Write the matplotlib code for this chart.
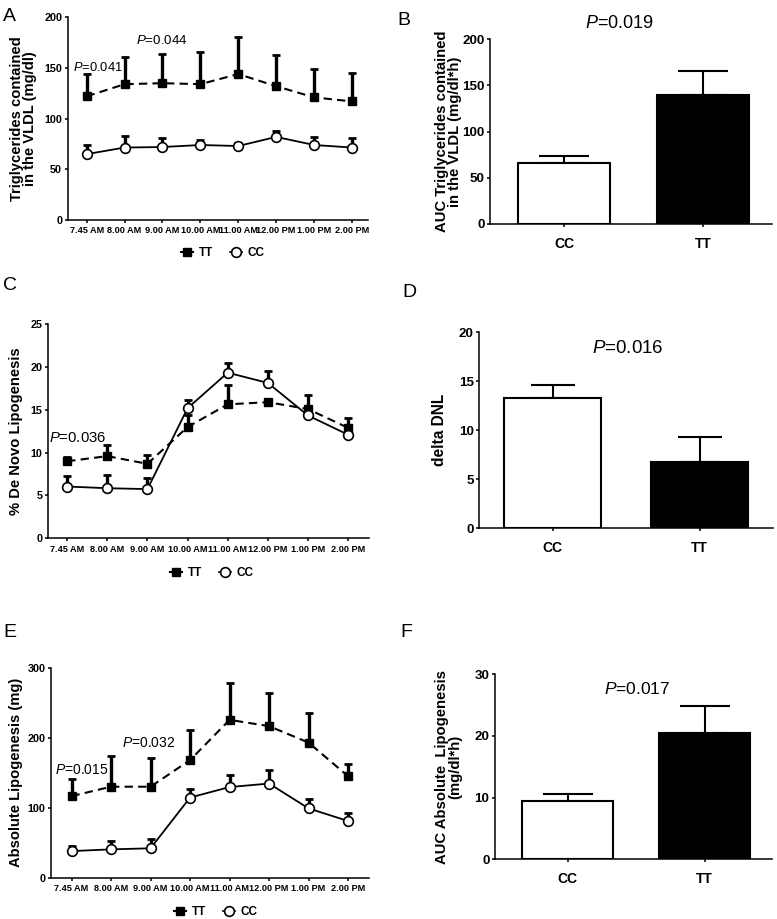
import matplotlib
matplotlib.use('Agg')
import matplotlib.pyplot as plt
from matplotlib.lines import Line2D
import numpy as np

plt.rcParams['font.family'] = ['Liberation Sans', 'DejaVu Sans']
plt.rcParams['mathtext.fontset'] = 'custom'
plt.rcParams['mathtext.it'] = 'Liberation Sans:italic'
plt.rcParams['mathtext.rm'] = 'Liberation Sans'

# ---- data ----
times = ['7.45 AM', '8.00 AM', '9.00 AM', '10.00 AM', '11.00 AM', '12.00 PM', '1.00 PM', '2.00 PM']
groups = ['CC', 'TT']

# A: triglycerides in VLDL (mg/dl), mean and upper error
tg_tt = [122, 134, 135, 134, 144, 132, 121, 117]
tg_tt_err = [22, 27, 29, 32, 37, 31, 28, 28]
tg_cc = [65, 71.5, 72, 74, 73, 82, 74, 71.5]
tg_cc_err = [9, 11.5, 9, 4.5, 3, 6, 8, 9]

# B: AUC triglycerides
auc_tg = [65.7, 140]
auc_tg_err = [8.3, 25.3]

# C: % de novo lipogenesis
dnl_tt = [9.0, 9.6, 8.7, 13.0, 15.65, 15.9, 15.1, 12.9]
dnl_tt_err = [0.5, 1.3, 1.0, 1.4, 2.25, 0.3, 1.6, 1.1]
dnl_cc = [6.05, 5.85, 5.75, 15.2, 19.35, 18.15, 14.35, 12.1]
dnl_cc_err = [1.25, 1.6, 1.35, 0.95, 1.15, 1.4, 0.3, 0.3]

# D: delta DNL
delta_dnl = [13.25, 6.75]
delta_dnl_err = [1.4, 2.6]

# E: absolute lipogenesis (mg)
abs_tt = [116.5, 130, 130, 168, 225.5, 216.5, 193, 145]
abs_tt_err = [24, 44, 41, 43, 52, 47, 43, 18]
abs_cc = [38, 40.5, 42, 114.5, 129.5, 134.5, 99, 81]
abs_cc_err = [8, 12, 14, 12.5, 17.5, 19.5, 14, 11]

# F: AUC absolute lipogenesis
auc_abs = [9.45, 20.5]
auc_abs_err = [1.15, 4.35]

W, H = 777, 919
fig = plt.figure(figsize=(W / 100, H / 100), dpi=100)


def px_axes(left, top, right, bottom):
    return fig.add_axes([left / W, 1 - bottom / H, (right - left) / W, (bottom - top) / H])


def style(ax):
    for s in ['top', 'right']:
        ax.spines[s].set_visible(False)
    for s in ['left', 'bottom']:
        ax.spines[s].set_linewidth(1.1)
    ax.tick_params(width=1.1, length=2.5)
    for lbl in ax.get_yticklabels() + ax.get_xticklabels():
        lbl.set_fontweight('bold')


def line_panel(ax, tt, tt_err, cc, cc_err, ylim, yticks, ylabel, xlim, lab_x):
    x = np.arange(len(times))
    ax.errorbar(x, tt, yerr=[np.zeros(len(tt)), tt_err], fmt='none', ecolor='black',
                elinewidth=2.4, capsize=3, capthick=2, zorder=2)
    ax.errorbar(x, cc, yerr=[np.zeros(len(cc)), cc_err], fmt='none', ecolor='black',
                elinewidth=2.4, capsize=3, capthick=2, zorder=2)
    ax.plot(x, tt, color='black', lw=1.5, ls=(0, (4, 2.5)), marker='s', ms=6,
            mfc='black', zorder=3)
    ax.plot(x, cc, color='black', lw=1.3, ls='-', marker='o', ms=7, mfc='white',
            mew=1.2, zorder=3)
    ax.set_xlim(*xlim)
    ax.set_ylim(*ylim)
    ax.set_yticks(yticks)
    ax.set_xticks(x)
    ax.set_xticklabels(times)
    ax.tick_params(axis='x', labelsize=6.6, pad=2)
    ax.tick_params(axis='y', labelsize=7.8, pad=1.5)
    ax.set_ylabel(ylabel, fontsize=10.6, fontweight='bold', linespacing=0.95)
    ax.yaxis.set_label_coords(lab_x, 0.5)
    style(ax)


def bar_panel(ax, vals, errs, ylim, yticks, ylabel, lab_x, capsize, lab_size=10.7):
    x = np.arange(len(groups))
    ax.bar(x, vals, width=0.66, color=['white', 'black'], edgecolor='black', linewidth=1.5,
           zorder=2)
    ax.errorbar(x, vals, yerr=[np.zeros(len(vals)), errs], fmt='none', ecolor='black',
                elinewidth=1.5, capsize=capsize, capthick=1.5, zorder=1)
    ax.set_xlim(-0.53, 1.49)
    ax.set_ylim(*ylim)
    ax.set_yticks(yticks)
    ax.set_xticks(x)
    ax.set_xticklabels(groups)
    ax.tick_params(axis='x', labelsize=10, length=0, pad=7)
    ax.tick_params(axis='y', labelsize=9.6, pad=1.5)
    ax.set_ylabel(ylabel, fontsize=lab_size, fontweight='bold', linespacing=0.95)
    ax.yaxis.set_label_coords(lab_x, 0.5)
    style(ax)


def add_legend(ax, cx, cy):
    handles = [Line2D([], [], color='black', lw=1.5, marker='s', ms=6, mfc='black'),
               Line2D([], [], color='black', lw=1.2, marker='o', ms=7, mfc='white', mew=1.2)]
    leg = ax.legend(handles, ['TT', 'CC'], loc='center', bbox_to_anchor=(cx / W, 1 - cy / H),
                    bbox_transform=fig.transFigure, ncol=2, frameon=False, handlelength=1.0,
                    handletextpad=0.5, columnspacing=1.4, prop={'weight': 'bold', 'size': 8.5})
    return leg


def ptxt(ax, x, y, s, size, ha='left'):
    ax.text(x, y, r'$\it{P}$=' + s, fontsize=size, ha=ha, va='center', clip_on=False)


# Panel A
axA = px_axes(67.7, 17.3, 368.3, 220)
line_panel(axA, tg_tt, tg_tt_err, tg_cc, tg_cc_err, (0, 200), [0, 50, 100, 150, 200],
           'Triglycerides contained\nin the VLDL (mg/dl)', (-0.5, 7.43), -0.102)
add_legend(axA, 223, 253)
ptxt(axA, -0.37, 150, '0.041', 9.3)
ptxt(axA, 1.29, 177.6, '0.044', 9.6)

# Panel B
axB = px_axes(490, 39.3, 771.7, 224)
bar_panel(axB, auc_tg, auc_tg_err, (0, 200), [0, 50, 100, 150, 200],
          'AUC Triglycerides contained\nin the VLDL (mg/dl*h)', -0.099, 18)
ptxt(axB, 0.40, 217, '0.019', 13, ha='center')

# Panel C
axC = px_axes(48.3, 324.3, 369, 538.3)
line_panel(axC, dnl_tt, dnl_tt_err, dnl_cc, dnl_cc_err, (0, 25), [0, 5, 10, 15, 20, 25],
           '% De Novo Lipogenesis', (-0.47, 7.52), -0.079)
add_legend(axC, 212, 573)
ptxt(axC, -0.46, 11.75, '0.036', 10.7)

# Panel D
axD = px_axes(479.3, 332.3, 773, 528.3)
bar_panel(axD, delta_dnl, delta_dnl_err, (0, 20), [0, 5, 10, 15, 20],
          'delta DNL', -0.111, 16, lab_size=11.2)
axD.set_xlim(-0.5, 1.5)
ptxt(axD, 0.51, 18.37, '0.016', 13.5, ha='center')

# Panel E
axE = px_axes(51, 667.7, 369, 877.7)
line_panel(axE, abs_tt, abs_tt_err, abs_cc, abs_cc_err, (0, 300), [0, 100, 200, 300],
           'Absolute Lipogenesis (mg)', (-0.52, 7.53), -0.088)
add_legend(axE, 216, 912)
ptxt(axE, -0.42, 153.9, '0.015', 10)
ptxt(axE, 1.27, 192, '0.032', 10)

# Panel F
axF = px_axes(495, 674.3, 771.7, 859.3)
bar_panel(axF, auc_abs, auc_abs_err, (0, 30), [0, 10, 20, 30],
          'AUC Absolute  Lipogenesis\n(mg/dl*h)', -0.119, 18)
ptxt(axF, 0.51, 27.6, '0.017', 12.5, ha='center')

# panel letters
for lab, x, y in [('A', 3, 21), ('B', 397, 25), ('C', 3, 290), ('D', 402, 297),
                  ('E', 3, 637), ('F', 400, 637)]:
    fig.text(x / W, 1 - y / H, lab, fontsize=14, ha='left', va='baseline')

fig.savefig('out.png', dpi=100, facecolor='white')
